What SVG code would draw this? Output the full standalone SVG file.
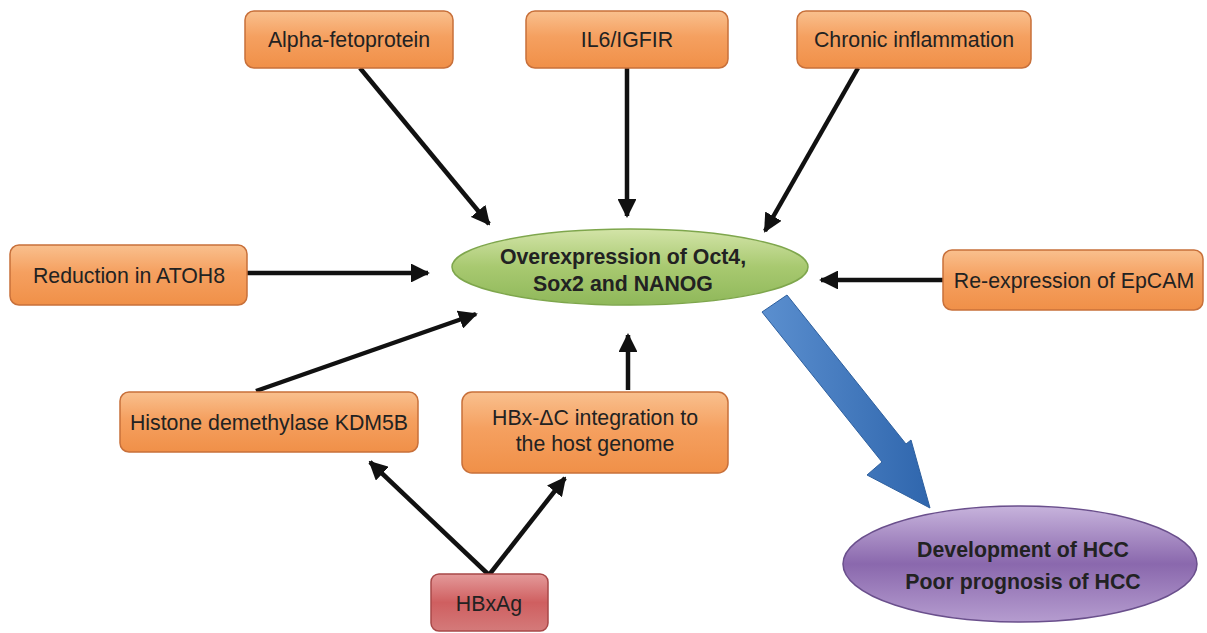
<svg xmlns="http://www.w3.org/2000/svg" width="1207" height="633" viewBox="0 0 1207 633">
<defs>
<linearGradient id="og" x1="0" y1="0" x2="0" y2="1">
<stop offset="0" stop-color="#f9c08e"/>
<stop offset="0.45" stop-color="#f5a060"/>
<stop offset="1" stop-color="#f09048"/>
</linearGradient>
<linearGradient id="rg" x1="0" y1="0" x2="0" y2="1">
<stop offset="0" stop-color="#e49a9a"/>
<stop offset="0.5" stop-color="#cf5f60"/>
<stop offset="1" stop-color="#d47a7a"/>
</linearGradient>
<linearGradient id="gg" x1="0" y1="0" x2="0" y2="1">
<stop offset="0" stop-color="#d3e4a8"/>
<stop offset="0.5" stop-color="#a8c970"/>
<stop offset="1" stop-color="#8fb85a"/>
</linearGradient>
<linearGradient id="pg" x1="0" y1="0" x2="0" y2="1">
<stop offset="0" stop-color="#c7b3dc"/>
<stop offset="0.5" stop-color="#8a68ad"/>
<stop offset="1" stop-color="#b59ccf"/>
</linearGradient>
<linearGradient id="bg" x1="0" y1="0" x2="1" y2="0">
<stop offset="0" stop-color="#5b8fcf"/>
<stop offset="1" stop-color="#2f66ad"/>
</linearGradient>
<marker id="ah" viewBox="0 0 10 10" refX="9" refY="5" markerWidth="4.2" markerHeight="4.2" orient="auto" markerUnits="strokeWidth">
<path d="M0,0 L10,5 L0,10 Z" fill="#111"/>
</marker>
<style>
.box{fill:url(#og);stroke:#c8703a;stroke-width:1.5}
.red{fill:url(#rg);stroke:#a84848;stroke-width:1.5}
.t{font-family:"Liberation Sans",Arial,sans-serif;font-size:21.3px;fill:#222;text-anchor:middle}
.b{font-family:"Liberation Sans",Arial,sans-serif;font-size:21.3px;font-weight:bold;fill:#222;text-anchor:middle}
.c{stroke:#111;stroke-width:4.5;fill:none;marker-end:url(#ah)}
</style>
</defs>
<rect width="1207" height="633" fill="#fff"/>
<g id="connectors">
<line class="c" x1="360" y1="68" x2="489" y2="224"/>
<line class="c" x1="627" y1="68" x2="627" y2="216"/>
<line class="c" x1="858" y1="68" x2="765" y2="231"/>
<line class="c" x1="247" y1="273" x2="428" y2="273"/>
<line class="c" x1="943" y1="280" x2="821" y2="280"/>
<line class="c" x1="256" y1="391" x2="476" y2="314"/>
<line class="c" x1="628" y1="390" x2="628" y2="335"/>
<line class="c" x1="489" y1="575" x2="370" y2="462"/>
<line class="c" x1="489" y1="575" x2="565" y2="478"/>
<path d="M762,312 L787,295 L906,444 L911,440 L930,508 L867,475 L882,462 Z" fill="url(#bg)" stroke="#2d5f9e" stroke-width="1"/>
</g>
<g id="n-afp"><rect class="box" x="245" y="11" width="208" height="57" rx="9"/><text class="t" x="349" y="47">Alpha-fetoprotein</text></g>
<g id="n-il6"><rect class="box" x="526" y="11" width="202" height="57" rx="9"/><text class="t" x="627" y="47">IL6/IGFIR</text></g>
<g id="n-chronic"><rect class="box" x="797" y="11" width="234" height="57" rx="9"/><text class="t" x="914" y="47">Chronic inflammation</text></g>
<g id="n-atoh8"><rect class="box" x="10" y="245" width="237" height="60" rx="9"/><text class="t" x="129" y="283">Reduction in ATOH8</text></g>
<g id="n-epcam"><rect class="box" x="943" y="250" width="260" height="60" rx="9"/><text class="t" x="1074" y="288">Re-expression of EpCAM</text></g>
<g id="n-kdm5b"><rect class="box" x="120" y="392" width="298" height="60" rx="9"/><text class="t" x="269" y="430">Histone demethylase KDM5B</text></g>
<g id="n-hbxdc"><rect class="box" x="462" y="392" width="266" height="81" rx="10"/><text class="t" x="595" y="425">HBx-ΔC integration to</text><text class="t" x="595" y="451">the host genome</text></g>
<g id="n-hbxag"><rect class="red" x="431" y="574" width="117" height="57" rx="8"/><text class="t" x="489" y="611">HBxAg</text></g>
<g id="n-oct4"><ellipse cx="630" cy="267" rx="178" ry="38" fill="url(#gg)" stroke="#7ea64c" stroke-width="1.5"/><text class="b" x="623" y="264">Overexpression of Oct4,</text><text class="b" x="623" y="291">Sox2 and NANOG</text></g>
<g id="n-hcc"><ellipse cx="1020" cy="564" rx="177" ry="58" fill="url(#pg)" stroke="#6a4f8c" stroke-width="1.5"/><text class="b" x="1023" y="557">Development of HCC</text><text class="b" x="1023" y="589">Poor prognosis of HCC</text></g>
</svg>
